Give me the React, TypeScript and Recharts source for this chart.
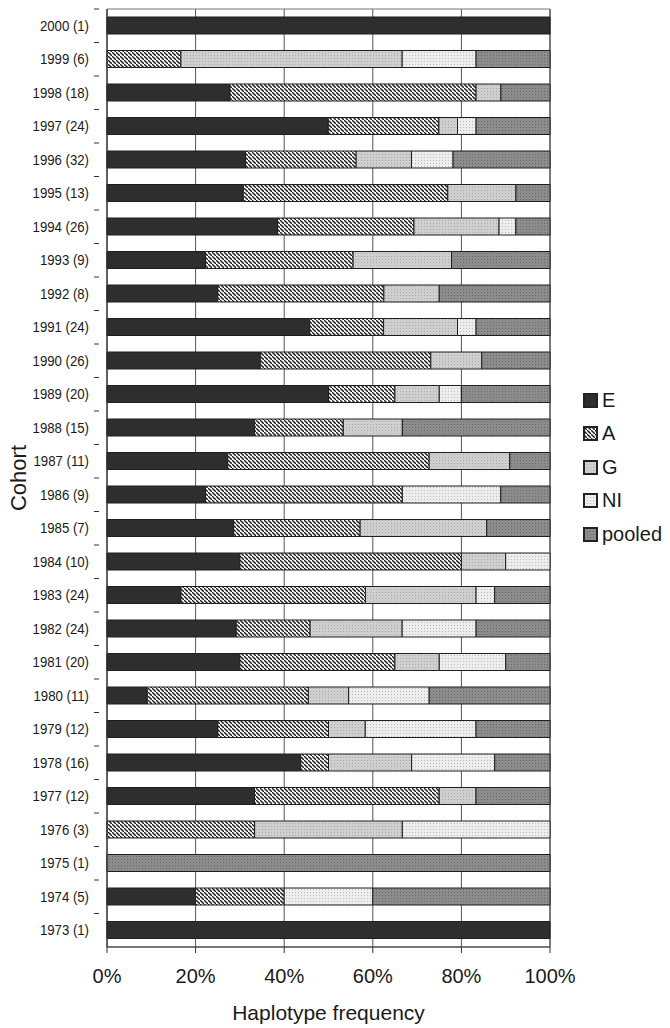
import { BarChart, Bar, XAxis, YAxis, CartesianGrid, ReferenceArea } from "recharts";

const cohorts = [
  "2000 (1)", "1999 (6)", "1998 (18)", "1997 (24)", "1996 (32)", "1995 (13)", "1994 (26)",
  "1993 (9)", "1992 (8)", "1991 (24)", "1990 (26)", "1989 (20)", "1988 (15)", "1987 (11)",
  "1986 (9)", "1985 (7)", "1984 (10)", "1983 (24)", "1982 (24)", "1981 (20)", "1980 (11)",
  "1979 (12)", "1978 (16)", "1977 (12)", "1976 (3)", "1975 (1)", "1974 (5)", "1973 (1)",
];

// haplotype shares (%) per cohort
const eVals = [100, 0, 27.8, 50, 31.3, 30.8, 38.5, 22.2, 25, 45.8, 34.6, 50, 33.3, 27.3, 22.2, 28.6, 30, 16.7, 29.2, 30, 9.1, 25, 43.8, 33.3, 0, 0, 20, 100];
const aVals = [0, 16.7, 55.6, 25, 25, 46.2, 30.8, 33.3, 37.5, 16.7, 38.5, 15, 20, 45.5, 44.4, 28.6, 50, 41.7, 16.7, 35, 36.4, 25, 6.3, 41.7, 33.3, 0, 20, 0];
const gVals = [0, 50, 5.6, 4.2, 12.5, 15.4, 19.2, 22.2, 12.5, 16.7, 11.5, 10, 13.3, 18.2, 0, 28.6, 10, 25, 20.8, 10, 9.1, 8.3, 18.8, 8.3, 33.3, 0, 0, 0];
const niVals = [0, 16.7, 0, 4.2, 9.4, 0, 3.8, 0, 0, 4.2, 0, 5, 0, 0, 22.2, 0, 10, 4.2, 16.7, 15, 18.2, 25, 18.8, 0, 33.3, 0, 20, 0];
const pooledVals = [0, 16.7, 11.1, 16.7, 21.9, 7.7, 7.7, 22.2, 25, 16.7, 15.4, 20, 33.3, 9.1, 11.1, 14.3, 0, 12.5, 16.7, 10, 27.3, 16.7, 12.5, 16.7, 0, 100, 40, 0];

const xTicks = [0, 20, 40, 60, 80, 100];

const SERIES = [
  { key: "E", fill: "#2e2e2e" },
  { key: "A", fill: "url(#pat-A)" },
  { key: "G", fill: "url(#pat-G)" },
  { key: "NI", fill: "url(#pat-NI)" },
  { key: "pooled", fill: "url(#pat-pooled)" },
];

// rows rescaled so each cohort sums to exactly 100 %
const data = cohorts.map((c, i) => {
  const total = eVals[i] + aVals[i] + gVals[i] + niVals[i] + pooledVals[i];
  const k = 100 / total;
  return {
    cohort: c,
    E: eVals[i] * k,
    A: aVals[i] * k,
    G: gVals[i] * k,
    NI: niVals[i] * k,
    pooled: pooledVals[i] * k,
  };
});

const W = 670;
const H = 1028;
const MARGIN = { top: 9, right: 120, bottom: 4, left: 0 };
const X_AXIS_H = 77;
const BAND = (H - MARGIN.top - MARGIN.bottom - X_AXIS_H) / cohorts.length;

const SANS = "'Liberation Sans', Arial, Helvetica, sans-serif";

function Patterns() {
  return (
    <svg width={0} height={0} style={{ position: "absolute" }}>
      <defs>
        <pattern id="pat-A" patternUnits="userSpaceOnUse" width={4} height={4}>
          <rect width={4} height={4} fill="#f6f6f6" />
          <path d="M-1,-1 l2,2 M0,0 l4,4 M3,3 l2,2" stroke="#1e1e1e" strokeWidth={1.4} />
        </pattern>
        <pattern id="pat-G" patternUnits="userSpaceOnUse" width={3} height={3}>
          <rect width={3} height={3} fill="#cfcfcf" />
          <rect x={1} y={1} width={1} height={1} fill="#aaaaaa" />
        </pattern>
        <pattern id="pat-NI" patternUnits="userSpaceOnUse" width={3} height={3}>
          <rect width={3} height={3} fill="#ededed" />
          <rect x={1} y={1} width={1} height={1} fill="#bcbcbc" />
        </pattern>
        <pattern id="pat-pooled" patternUnits="userSpaceOnUse" width={3} height={3}>
          <rect width={3} height={3} fill="#8c8c8c" />
          <rect x={1} y={1} width={1} height={1} fill="#6a6a6a" />
        </pattern>
      </defs>
    </svg>
  );
}

// eslint-disable-next-line @typescript-eslint/no-explicit-any
function CohortTick({ x, y, payload }: any) {
  return (
    <g>
      <text
        transform={`translate(${x - 10},${y + 5}) scale(0.88,1)`}
        textAnchor="end"
        fontSize={15}
        fontFamily={SANS}
        fill="#1a1a1a"
      >
        {payload.value}
      </text>
      <line x1={x - 5} x2={x} y1={y - BAND / 2} y2={y - BAND / 2} stroke="#333" />
    </g>
  );
}

function LegendBox() {
  return (
    <div
      style={{
        position: "absolute",
        left: 583,
        top: 400 - BAND / 2,
        fontFamily: SANS,
        fontSize: 20,
        color: "#1a1a1a",
      }}
    >
      {SERIES.map((s) => (
        <div key={s.key} style={{ display: "flex", alignItems: "center", height: BAND }}>
          <svg width={15} height={15} style={{ marginRight: 4 }}>
            <rect x={1} y={1} width={13} height={13} fill={s.fill} stroke="#222" strokeWidth={2} />
          </svg>
          <span>{s.key}</span>
        </div>
      ))}
    </div>
  );
}

export default function App() {
  return (
    <div style={{ position: "absolute", left: 0, top: 0, width: W, height: H, background: "#fff" }}>
      <Patterns />
      <BarChart
        width={W}
        height={H}
        data={data}
        layout="vertical"
        margin={MARGIN}
        barSize={17}
      >
        <CartesianGrid horizontal={false} stroke="#555" strokeWidth={1} />
        <ReferenceArea x1={0} x2={100} fill="none" stroke="#777" strokeWidth={1} ifOverflow="visible" />
        <XAxis
          type="number"
          domain={[0, 100]}
          ticks={xTicks}
          tickFormatter={(v: number) => `${v}%`}
          height={X_AXIS_H}
          tick={{ fontSize: 20, fontFamily: SANS, fill: "#1a1a1a" }}
          tickSize={6}
          tickMargin={16}
          axisLine={{ stroke: "#333" }}
          tickLine={{ stroke: "#333" }}
          label={{
            value: "Haplotype frequency",
            position: "insideBottom",
            offset: 4,
            style: { fontSize: 21, fontFamily: SANS, fill: "#1a1a1a" },
          }}
        />
        <YAxis
          type="category"
          dataKey="cohort"
          width={107}
          tick={<CohortTick />}
          tickLine={false}
          interval={0}
          axisLine={{ stroke: "#333" }}
          label={{
            value: "Cohort",
            angle: -90,
            position: "insideLeft",
            offset: 18,
            style: { fontSize: 22, fontFamily: SANS, fill: "#1a1a1a", textAnchor: "middle" },
          }}
        />
        {SERIES.map((s) => (
          <Bar
            key={s.key}
            dataKey={s.key}
            stackId="h"
            fill={s.fill}
            stroke="#1e1e1e"
            strokeWidth={1}
            isAnimationActive={false}
          />
        ))}
      </BarChart>
      <LegendBox />
    </div>
  );
}
